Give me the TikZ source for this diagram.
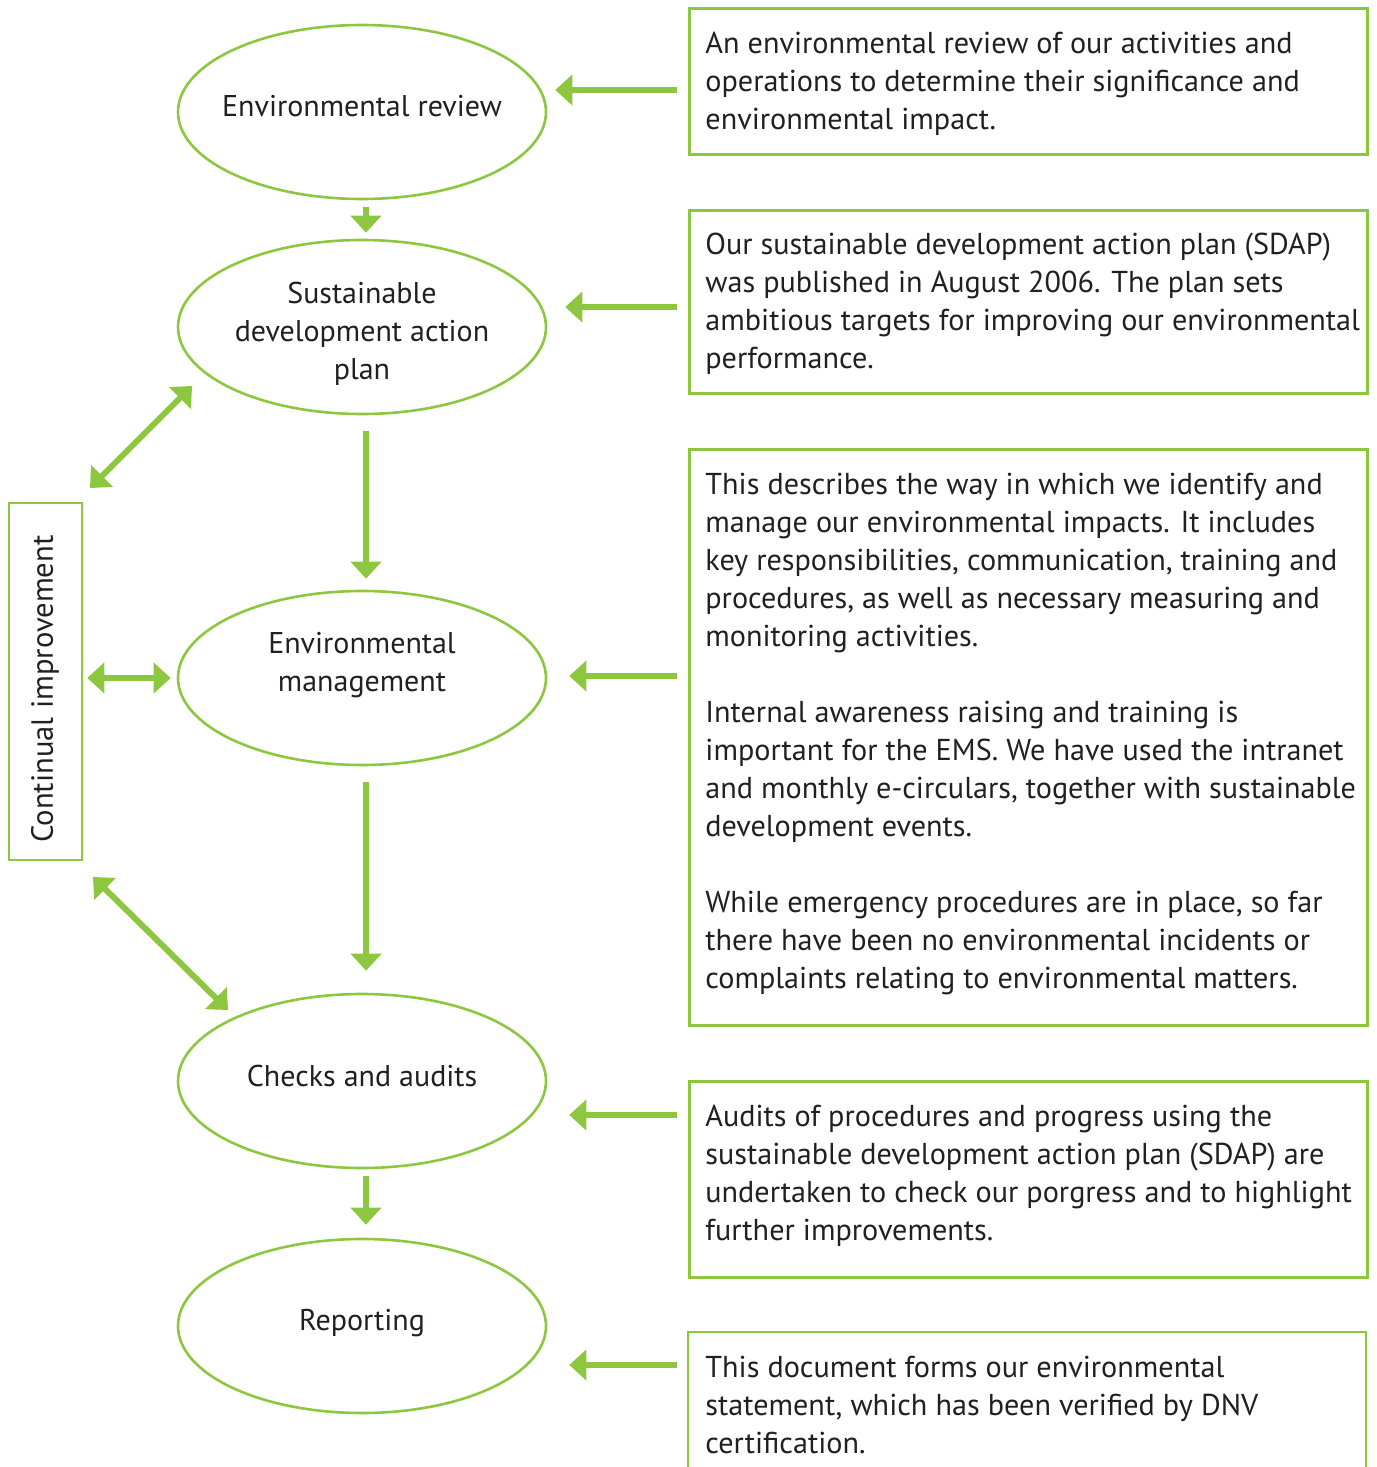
\documentclass[tikz,border=0pt]{standalone}
\usepackage{fontspec}
\setmainfont{PT Sans}
\usetikzlibrary{arrows.meta,shapes.geometric}
\definecolor{eg}{RGB}{141,198,63}
\definecolor{tx}{RGB}{35,31,32}
\begin{document}
\begin{tikzpicture}[x=0.5pt,y=-0.5pt,
  stage/.style={ellipse, draw=eg, line width=1.3pt, minimum width=184pt, minimum height=87pt, inner sep=0pt},
  stagetext/.style={text=tx, align=center, font=\fontsize{15pt}{19pt}\selectfont, inner sep=0pt},
  infobox/.style={draw=eg, line width=1.3pt, anchor=north west, inner sep=0pt},
  infotext/.style={text=tx, align=left, anchor=north west, font=\fontsize{15.1pt}{19pt}\selectfont, inner sep=0pt},
  arr/.style={draw=eg, line width=3pt, -{Triangle[length=8.5pt,width=15pt]}},
  arrtwo/.style={draw=eg, line width=3pt, {Triangle[length=8.5pt,width=15pt]}-{Triangle[length=8.5pt,width=15pt]}}
]
\useasboundingbox (0,0) rectangle (1376,1467);

% stages
\node[stage] (e1) at (362,112) {};
\node[stage] (e2) at (362,327) {};
\node[stage] (e3) at (362,678) {};
\node[stage] (e4) at (362,1081) {};
\node[stage] (e5) at (362,1326) {};
\node[stagetext] (s1) at (362,106) {Environmental review};
\node[stagetext] (s2) at (362,334) {Sustainable\\development action\\plan};
\node[stagetext] (s3) at (362,665) {Environmental\\management};
\node[stagetext] (s4) at (362,1076) {Checks and audits};
\node[stagetext] (s5) at (362,1323) {Reporting};

% down arrows
\draw[arr, shorten <=3.5pt, shorten >=3pt] ([xshift=2pt]e1.south) -- ([xshift=2pt]e2.north);
\draw[arr, shorten <=8pt, shorten >=5.5pt] ([xshift=2pt]e2.south) -- ([xshift=2pt]e3.north);
\draw[arr, shorten <=8pt, shorten >=11pt] ([xshift=2pt]e3.south) -- ([xshift=2pt]e4.north);
\draw[arr, shorten <=3.5pt, shorten >=6.5pt] ([xshift=2pt]e4.south) -- ([xshift=2pt]e5.north);

% info boxes
\node[infobox, minimum width=339pt, minimum height=73pt] (b1) at (688,7) {};
\node[infobox, minimum width=339pt, minimum height=91.5pt] (b2) at (688,209) {};
\node[infobox, minimum width=339pt, minimum height=288pt] (b3) at (688,448) {};
\node[infobox, minimum width=339pt, minimum height=98pt] (b4) at (688,1080) {};
\coordinate (b5a) at (688,1467);
\coordinate (b5b) at (688,1332);
\coordinate (b5c) at (1366,1332);
\coordinate (b5d) at (1366,1467);
\draw[draw=eg, line width=1.3pt] (b5a) -- (b5b) -- (b5c) -- (b5d);

\node[infotext] (t1) at (705,26.4) {\strut An environmental review of our activities and\\operations to determine their significance and\\environmental impact.};
\node[infotext] (t2) at (705,227.4) {\strut Our sustainable development action plan (SDAP)\\was published in August 2006. The plan sets\\ambitious targets for improving our environmental\\performance.};
\node[infotext] (t3) at (705,467.4) {\strut This describes the way in which we identify and\\manage our environmental impacts. It includes\\key responsibilities, communication, training and\\procedures, as well as necessary measuring and\\monitoring activities.\\[19pt]Internal awareness raising and training is\\important for the EMS. We have used the intranet\\and monthly e-circulars, together with sustainable\\development events.\\[19pt]While emergency procedures are in place, so far\\there have been no environmental incidents or\\complaints relating to environmental matters.};
\node[infotext] (t4) at (705,1099.4) {\strut Audits of procedures and progress using the\\sustainable development action plan (SDAP) are\\undertaken to check our porgress and to highlight\\further improvements.};
\node[infotext] (t5) at (705,1350.4) {\strut This document forms our environmental\\statement, which has been verified by DNV\\certification.};

% left arrows
\coordinate (y1) at (0,90);
\coordinate (y2) at (0,307);
\coordinate (y3) at (0,676);
\coordinate (y4) at (0,1115);
\coordinate (y5) at (0,1365);
\draw[arr, shorten <=5.5pt, shorten >=4pt] (b1.west |- y1) -- (e1.east |- y1);
\draw[arr, shorten <=5.5pt, shorten >=9pt] (b2.west |- y2) -- (e2.east |- y2);
\draw[arr, shorten <=5.5pt, shorten >=11pt] (b3.west |- y3) -- (e3.east |- y3);
\draw[arr, shorten <=5.5pt, shorten >=11pt] (b4.west |- y4) -- (e4.east |- y4);
\draw[arr, shorten <=5.5pt, shorten >=11pt] (b5b |- y5) -- (e5.east |- y5);

% continual improvement
\node[draw=eg, line width=1.3pt, minimum width=36.5pt, minimum height=178.5pt, inner sep=0pt] (ci) at (45.5,681.5) {};
\node[rotate=90, text=tx, font=\fontsize{15.3pt}{19pt}\selectfont, inner sep=0pt] (cit) at (45,689) {Continual improvement};
\coordinate (d1a) at (90,488);
\coordinate (d1b) at (192,386);
\coordinate (d3a) at (93,877);
\coordinate (d3b) at (228,1010);
\draw[arrtwo] (d1a) -- (d1b);
\draw[arrtwo, shorten <=2pt, shorten >=3pt] (ci.east |- e3.west) -- (e3.west);
\draw[arrtwo] (d3a) -- (d3b);
\end{tikzpicture}
\end{document}
